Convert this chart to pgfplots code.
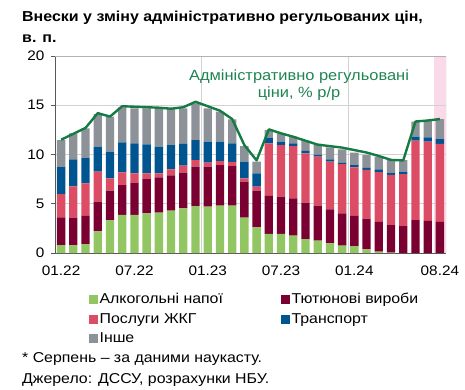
\documentclass[border=0pt]{standalone}
\usepackage{fontspec}
\setmainfont[FakeStretch=1.11]{Liberation Sans}
\usepackage{pgfplots}
\pgfplotsset{compat=1.18}
\usepackage{pgfplotstable}

\definecolor{cGreen}{RGB}{146,198,98}
\definecolor{cMaroon}{RGB}{122,0,50}
\definecolor{cPink}{RGB}{221,76,101}
\definecolor{cBlue}{RGB}{0,85,145}
\definecolor{cGray}{RGB}{140,146,152}
\definecolor{cLine}{RGB}{22,122,68}
\definecolor{cAnno}{RGB}{30,132,82}
\definecolor{cShade}{RGB}{250,218,232}

\pgfplotstableread{
x g t h r o L
0 0.81 2.81 2.37 2.77 2.71 11.5
1 0.78 2.81 3.18 2.73 2.65 12.1
2 0.91 2.85 3.31 2.57 3.02 12.7
3 2.20 3.01 3.05 2.54 3.30 14.2
4 3.35 2.98 1.25 2.71 3.55 13.85
5 3.86 3.04 1.29 3.05 3.55 14.9
6 3.86 3.28 0.95 3.05 3.55 14.85
7 4.03 3.52 0.54 2.94 3.66 14.8
8 4.10 3.58 0.41 2.71 3.89 14.75
9 4.30 3.59 0.61 2.46 3.73 14.65
10 4.53 3.63 0.71 2.20 3.62 14.8
11 4.77 4.00 0.67 2.03 3.73 15.35
12 4.70 4.07 0.40 2.13 3.39 14.9
13 4.80 4.13 0.41 1.96 3.05 14.45
14 4.80 4.03 0.41 1.90 2.43 13.6
15 3.59 3.65 0.34 1.69 1.59 10.95
16 2.60 3.73 0.41 1.35 1.18 9.4
17 1.93 3.86 5.35 0.57 0.78 12.55
18 1.93 3.79 5.24 0.34 0.85 12.15
19 1.76 3.79 5.31 0.28 0.67 11.8
20 1.42 3.69 5.01 0.24 1.04 11.4
21 1.25 3.55 4.98 0.17 1.12 11.0
22 0.98 3.45 4.84 0.23 1.23 10.85
23 0.75 3.28 5.00 0.12 1.37 10.7
24 0.70 3.06 4.94 0.23 1.26 10.45
25 0.37 3.12 4.94 0.20 1.32 10.2
26 0.15 3.00 5.07 0.28 1.28 9.85
27 0.05 2.79 5.08 0.24 1.28 9.45
28 0.00 2.74 5.28 0.24 1.18 9.4
29 0.00 3.35 8.05 0.41 1.52 13.35
30 0.00 3.25 8.05 0.44 1.76 13.45
31 0.00 3.15 7.92 0.50 2.03 13.6
}\data

\pgfplotsset{
  sqleg/.style={legend image code/.code={\fill[##1] (0pt,-4.5pt) rectangle (9pt,4.5pt);}},
}

\begin{document}
\begin{tikzpicture}
\path[use as bounding box] (0,0) rectangle (465pt,-390pt);

\node[anchor=base west, inner sep=0pt, font=\bfseries\fontsize{14.4}{17}\selectfont] at (22pt,-22pt) {Внески у зміну адміністративно регульованих цін,};
\node[anchor=base west, inner sep=0pt, font=\bfseries\fontsize{14.4}{17}\selectfont] at (22pt,-43pt) {в. п.};

% background: shading and vertical grid lines
\begin{axis}[
  at={(55pt,-253pt)}, anchor=south west,
  scale only axis, width=391pt, height=197pt,
  xmin=-0.5, xmax=31.5, ymin=0, ymax=20,
  axis lines=none, ticks=none,
]
\addplot[fill=cShade, draw=none] coordinates {(30.5,0) (30.5,20) (31.5,20) (31.5,0)} -- cycle;
\draw[gray!35, line width=0.6pt] (axis cs:11.5,0) -- (axis cs:11.5,20);
\draw[gray!35, line width=0.6pt] (axis cs:23.5,0) -- (axis cs:23.5,20);
\end{axis}

\begin{axis}[
  at={(55pt,-253pt)}, anchor=south west,
  scale only axis, width=391pt, height=197pt,
  ybar stacked, bar width=0.68,
  xmin=-0.5, xmax=31.5, ymin=0, ymax=20,
  ytick={0,5,10,15,20},
  xtick={0,6,12,18,24,31},
  xticklabels={01.22,07.22,01.23,07.23,01.24,08.24},
  xtick style={draw=none},
  ymajorgrids,
  major grid style={gray!35, line width=0.6pt},
  axis x line*=bottom, axis y line*=left,
  axis line style={gray!70!black, line width=0.8pt},
  ytick style={gray!70!black, line width=0.8pt},
  tick align=outside, major tick length=4pt,
  tick label style={font=\fontsize{13.8}{14}\selectfont},
  /pgf/number format/assume math mode=true,
  yticklabel style={xshift=-3pt},
  xticklabel style={yshift=-5pt},
  legend columns=2,
  legend cell align=left,
  legend style={draw=none, fill=none, at={(0.079,-0.185)}, anchor=north west,
    font=\fontsize{14.3}{18}\selectfont, row sep=3pt, column sep=0pt,
    nodes={inner sep=1.5pt, text height=10.5pt, text depth=3pt}},
]
\addplot[fill=cGreen, draw=none, sqleg] table[x=x,y=g]{\data};
\addlegendentry{\makebox[180pt][l]{Алкогольні напої}}
\addplot[fill=cMaroon, draw=none, sqleg] table[x=x,y=t]{\data};
\addlegendentry{Тютюнові вироби}
\addplot[fill=cPink, draw=none, sqleg] table[x=x,y=h]{\data};
\addlegendentry{\makebox[180pt][l]{Послуги ЖКГ}}
\addplot[fill=cBlue, draw=none, sqleg] table[x=x,y=r]{\data};
\addlegendentry{Транспорт}
\addplot[fill=cGray, draw=none, sqleg] table[x=x,y=o]{\data};
\addlegendentry{\makebox[180pt][l]{Інше}}
\draw[gray!60, line width=0.8pt] (rel axis cs:0,1) -- (rel axis cs:1,1) -- (rel axis cs:1,0);
\end{axis}

\begin{axis}[
  at={(55pt,-253pt)}, anchor=south west,
  scale only axis, width=391pt, height=197pt,
  xmin=-0.5, xmax=31.5, ymin=0, ymax=20,
  axis lines=none, ticks=none,
]
\addplot[cLine, line width=2.4pt, line join=round, no markers] table[x=x,y=L]{\data};
\end{axis}

\node[text=cAnno, align=center, inner sep=0pt, font=\fontsize{14.8}{17.5}\selectfont] at (299pt,-85pt) {Адміністративно регульовані\\ціни, \% р/р};

\node[anchor=base west, inner sep=0pt, font=\fontsize{14.3}{17}\selectfont] at (22pt,-362pt) {* Серпень – за даними наукасту.};
\node[anchor=base west, inner sep=0pt, font=\fontsize{14.3}{17}\selectfont] at (22pt,-383pt) {Джерело: ДССУ, розрахунки НБУ.};
\end{tikzpicture}
\end{document}
